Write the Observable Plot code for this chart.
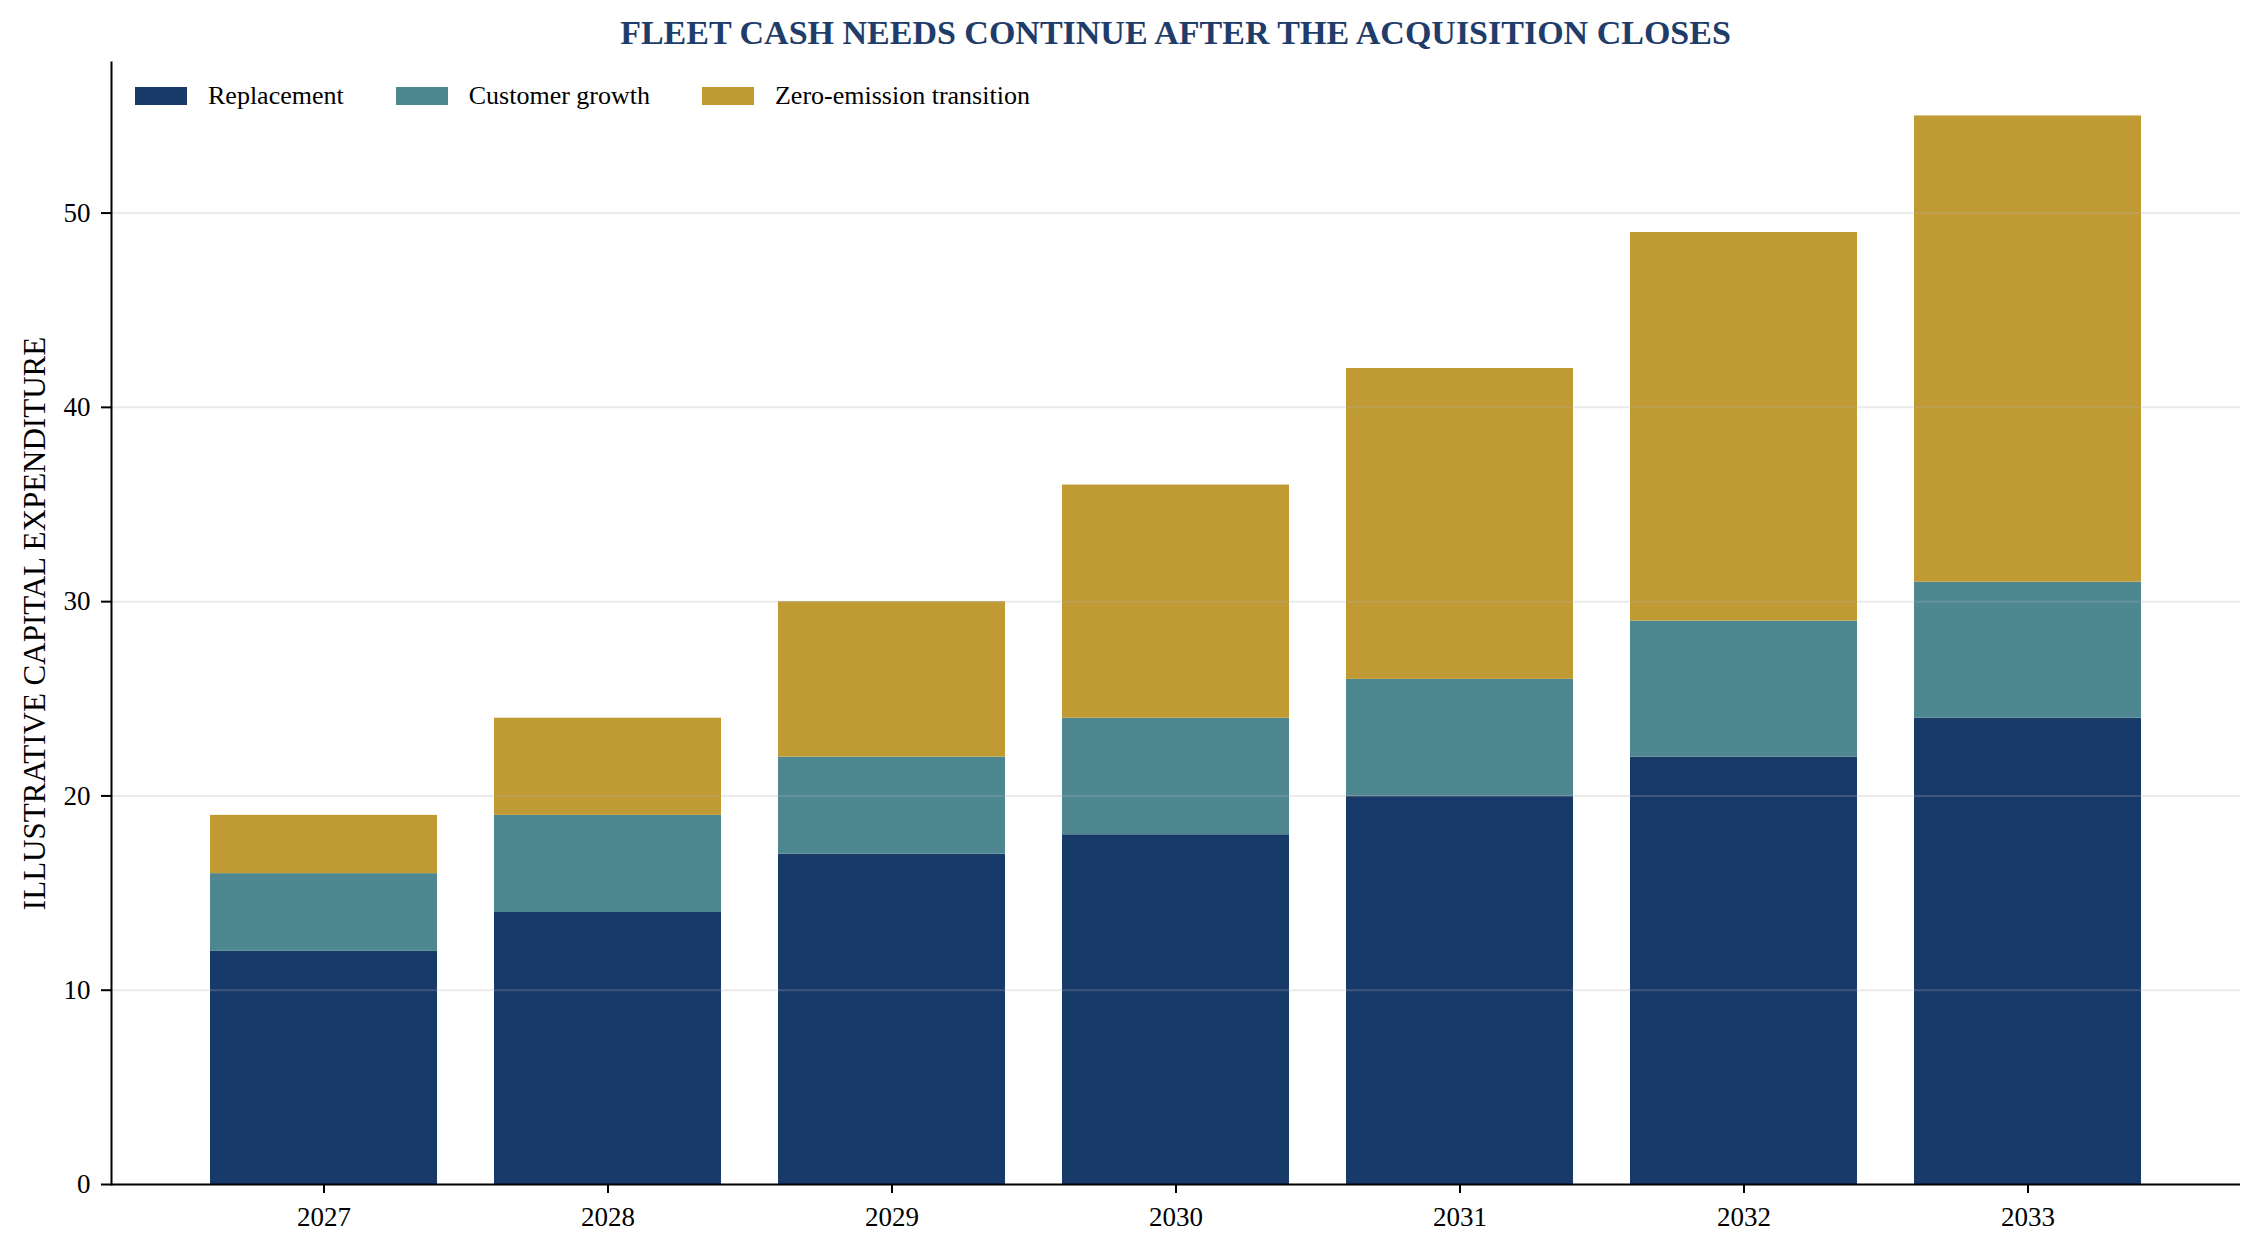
<!DOCTYPE html>
<html>
<head>
<meta charset="utf-8">
<script src="https://cdn.jsdelivr.net/npm/d3@7"></script>
<script src="https://cdn.jsdelivr.net/npm/@observablehq/plot@0.6"></script>
<style>
  html, body { margin: 0; padding: 0; background: #fff; }
  #wrap { position: relative; width: 2262px; height: 1253px; overflow: hidden; }
  #title {
    font-family: "Liberation Serif", "Times New Roman", serif;
    font-weight: bold; font-size: 34px; color: #1f3d6b;
    padding: 4px 22px 0 111px; height: 57px; line-height: 57px;
    text-align: center; white-space: nowrap;
  }
  #legend { position: absolute; left: 135px; top: 81px; }
  .leg-swatches { min-height: 0 !important; margin: 0 !important; line-height: 30px; }
  .leg-swatch { margin-right: 52px !important; }
  .leg-swatch > svg { margin-right: 21px !important; }
  g[aria-label="y-axis label"] { font-size: 31px; }
</style>
</head>
<body>
<div id="wrap">
  <div id="title">FLEET CASH NEEDS CONTINUE AFTER THE ACQUISITION CLOSES</div>
  <div id="chart"></div>
  <div id="legend"></div>
</div>
<script>
const years = ["2027", "2028", "2029", "2030", "2031", "2032", "2033"];
const replacement = [12, 14, 17, 18, 20, 22, 24];
const customerGrowth = [4, 5, 5, 6, 6, 7, 7];
const zeroEmission = [3, 5, 8, 12, 16, 20, 24];
const seriesNames = ["Replacement", "Customer growth", "Zero-emission transition"];
const seriesColors = ["#173a68", "#4f8790", "#c09a33"];
const yTicks = [0, 10, 20, 30, 40, 50];
const gridTicks = [10, 20, 30, 40, 50];
const yLabel = "ILLUSTRATIVE CAPITAL EXPENDITURE";

const seriesValues = [replacement, customerGrowth, zeroEmission];
const rows = [];
seriesNames.forEach((name, s) => {
  years.forEach((year, i) => rows.push({year, series: name, value: seriesValues[s][i]}));
});

const chart = Plot.plot({
  width: 2262,
  height: 1192,
  marginTop: 1,
  marginBottom: 69,
  marginLeft: 111,
  marginRight: 22,
  style: {fontFamily: "'Liberation Serif', 'Times New Roman', serif", fontSize: "27px", color: "#000", background: "#fff"},
  x: {domain: years, paddingInner: 0.2, paddingOuter: 0.34, align: 0.5},
  y: {domain: [0, 57.75]},
  color: {domain: seriesNames, range: seriesColors},
  marks: [
    Plot.barY(rows, {x: "year", y: "value", fill: "series"}),
    Plot.gridY(gridTicks, {stroke: "#b0b0b0", strokeOpacity: 0.25, strokeWidth: 2}),
    Plot.ruleY([0], {stroke: "#000", strokeWidth: 2}),
    Plot.frame({anchor: "left", stroke: "#000", strokeWidth: 2}),
    Plot.axisX({tickSize: 9, tickPadding: 13, strokeWidth: 2, label: null, fontSize: 27}),
    Plot.axisY({ticks: yTicks, tickSize: 10, tickPadding: 11, strokeWidth: 2, fontSize: 27,
      label: yLabel, labelAnchor: "center", labelArrow: "none", labelOffset: 89})
  ]
});
document.getElementById("chart").appendChild(chart);

const legend = Plot.legend({
  color: {type: "ordinal", domain: seriesNames, range: seriesColors},
  legend: "swatches",
  swatchWidth: 52,
  swatchHeight: 18,
  className: "leg",
  style: {fontFamily: "'Liberation Serif', 'Times New Roman', serif", fontSize: "26px", color: "#000"}
});
document.getElementById("legend").appendChild(legend);
</script>
</body>
</html>
